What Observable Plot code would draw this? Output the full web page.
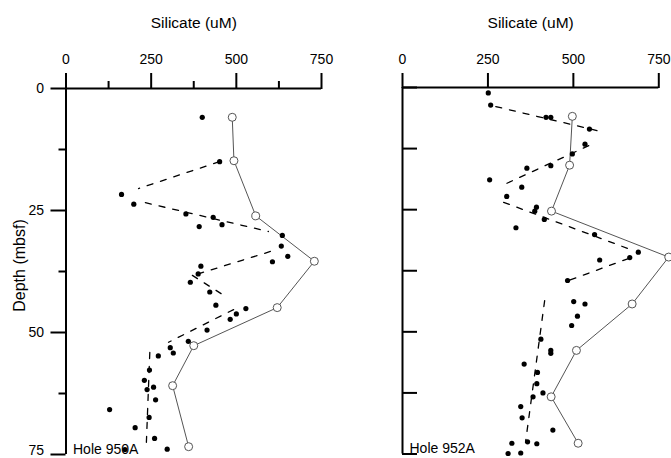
<!DOCTYPE html>
<html><head><meta charset="utf-8">
<script src="https://cdn.jsdelivr.net/npm/d3@7"></script>
<script src="https://cdn.jsdelivr.net/npm/@observablehq/plot@0.6"></script>
<style>
body{margin:0;background:#fff;}
#wrap{position:relative;width:671px;height:458px;overflow:hidden;background:#fff;}
#p1,#p2{position:absolute;top:0;}
#p1{left:0;} #p2{left:340px;}
</style></head><body><div id="wrap"><div id="p1"></div><div id="p2"></div></div>
<script>
// ---- axis ticks / labels
const xMajor = [0, 250, 500, 750];
const xMinor = [125, 375, 625];
const yMajorUpper = [0, 25, 50];
const yMajorBottom = [75];
const yMinor = [12.5, 37.5, 62.5];
const yAllTicks = [0, 12.5, 25, 37.5, 50, 62.5, 75];
const xTitle = "Silicate (uM)";
const yTitle = "Depth (mbsf)";
const holes = ["Hole 950A", "Hole 952A"];

// ---- Hole 950A pore-water samples (filled dots)
const si950 = [400, 451, 163, 199, 352, 432, 458, 391, 635, 632, 651, 606, 396, 388, 365, 422, 440, 528, 500, 482, 414, 359, 306, 315, 271, 245, 230, 257, 238, 263, 128, 244, 203, 260, 173, 297];
const depth950 = [5.9, 15.0, 21.7, 23.7, 25.7, 26.4, 27.9, 28.3, 30.1, 32.3, 34.4, 35.5, 36.4, 38.0, 39.7, 41.7, 44.4, 45.1, 46.2, 47.3, 49.5, 51.8, 53.1, 54.2, 54.8, 57.7, 59.8, 61.2, 61.7, 63.8, 65.8, 67.4, 69.5, 71.7, 74.0, 73.9];
// Hole 950A open circles (solid line)
const siCirc950 = [488, 493, 557, 729, 620, 375, 313, 360];
const depthCirc950 = [5.9, 14.8, 26.1, 35.4, 44.9, 52.7, 60.9, 73.4];
// Hole 950A dashed trend segments
const siTrend950 = [450, 213, 233, 594, 600, 383, 371, 468, 492, 301, 246, 236];
const depthTrend950 = [15.0, 20.5, 23.4, 29.3, 33.4, 38.1, 38.3, 42.6, 45.3, 52.0, 54.1, 72.5];
const segTrend950 = ["A", "A", "B", "B", "C", "C", "D", "D", "E", "E", "F", "F"];

// ---- Hole 952A pore-water samples (filled dots)
const si952 = [251, 258, 420, 434, 547, 534, 497, 434, 364, 255, 349, 305, 392, 387, 415, 332, 562, 690, 665, 577, 483, 501, 534, 512, 495, 405, 434, 434, 356, 395, 393, 411, 382, 346, 350, 440, 320, 366, 393, 309, 346];
const depth952 = [1.1, 3.6, 6.1, 6.1, 8.5, 11.6, 13.6, 16.0, 16.5, 18.9, 20.4, 22.3, 24.5, 25.3, 27.0, 28.7, 30.1, 33.7, 34.8, 35.3, 39.5, 43.8, 44.3, 46.8, 48.7, 51.5, 53.8, 54.4, 56.6, 58.3, 60.6, 62.5, 63.3, 65.3, 67.6, 70.1, 72.8, 72.5, 72.9, 74.9, 74.8];
// Hole 952A open circles (solid line)
const siCirc952 = [497, 489, 436, 779, 672, 509, 435, 514];
const depthCirc952 = [5.9, 15.9, 25.3, 34.7, 44.3, 53.8, 63.3, 72.8];
// Hole 952A dashed trend segments
const siTrend952 = [273, 580, 545, 293, 296, 673, 661, 486, 416, 360];
const depthTrend952 = [3.9, 9.0, 11.9, 20.0, 23.5, 33.3, 35.0, 39.5, 43.6, 72.6];
const segTrend952 = ["A", "A", "B", "B", "C", "C", "D", "D", "E", "E"];

const FONT = "'Liberation Sans', Arial, Helvetica, sans-serif";
const rows = (xs, ys, zs) => xs.map((x, i) => ({x, y: ys[i], z: zs ? zs[i] : 0}));

function panel(cfg) {
  const marks = [
    Plot.ruleY([0], {stroke: "#000", strokeWidth: 2}),
    Plot.ruleX([0], {stroke: "#000", strokeWidth: 2}),
    Plot.axisX({anchor: "top", ticks: xMajor, tickSize: cfg.xTick, tickPadding: 9, strokeWidth: 2, label: null, fontSize: 14, tickFormat: d => String(d)}),
    Plot.text([xTitle], {frameAnchor: "top", dy: -(cfg.marginTop - 27), lineAnchor: "bottom", fontSize: 15.5}),
    Plot.line(rows(cfg.trendX, cfg.trendY, cfg.trendZ), {x: "x", y: "y", z: "z", stroke: "#000", strokeWidth: 1.3, strokeDasharray: "6,8"}),
    Plot.line(rows(cfg.circX, cfg.circY), {x: "x", y: "y", stroke: "#555", strokeWidth: 1}),
    Plot.dot(rows(cfg.circX, cfg.circY), {x: "x", y: "y", r: 4, stroke: "#555", fill: "white", strokeWidth: 1}),
    Plot.dot(rows(cfg.dotX, cfg.dotY), {x: "x", y: "y", r: 2.6, fill: "#000", stroke: "none"}),
    Plot.text([cfg.hole], {frameAnchor: "bottom-left", dx: 7, dy: -5, textAnchor: "start", lineAnchor: "middle", fontSize: 14})
  ];
  if (cfg.left) {
    marks.push(
      Plot.axisX({anchor: "top", ticks: xMinor, tickSize: 8, strokeWidth: 2, fill: "none", label: null}),
      Plot.axisY({anchor: "left", ticks: yMajorUpper, tickSize: 15, tickPadding: 7, strokeWidth: 2, label: null, fontSize: 14, tickFormat: d => String(d)}),
      Plot.axisY({anchor: "left", ticks: yMajorBottom, tickSize: 15, strokeWidth: 2, fill: "none", label: null}),
      Plot.axisY({anchor: "left", ticks: yMajorBottom, tickSize: 0, tickPadding: 22, dy: -4, label: null, fontSize: 14, tickFormat: d => String(d)}),
      Plot.axisY({anchor: "left", ticks: yMinor, tickSize: 7, strokeWidth: 2, fill: "none", label: null}),
      Plot.text([yTitle], {frameAnchor: "left", dx: -46, dy: -6, rotate: -90, textAnchor: "middle", lineAnchor: "middle", fontSize: 16})
    );
  } else {
    marks.push(
      Plot.axisY({anchor: "left", ticks: yAllTicks, tickSize: -15, strokeWidth: 2, fill: "none", label: null})
    );
  }
  return Plot.plot({
    width: cfg.width, height: 458,
    marginLeft: cfg.marginLeft, marginRight: cfg.marginRight,
    marginTop: cfg.marginTop, marginBottom: cfg.marginBottom,
    style: {fontFamily: FONT, fontSize: "14px", background: "white", color: "#000"},
    x: {domain: [0, 750]},
    y: {domain: [0, 75], reverse: true},
    marks
  });
}

document.getElementById("p1").appendChild(panel({
  left: true, width: 340, marginLeft: 65.5, marginRight: 19, marginTop: 88, marginBottom: 4,
  dotX: si950, dotY: depth950, circX: siCirc950, circY: depthCirc950,
  trendX: siTrend950, trendY: depthTrend950, trendZ: segTrend950, hole: holes[0], xTick: 16
}));
document.getElementById("p2").appendChild(panel({
  left: false, width: 331, marginLeft: 62, marginRight: 12.7, marginTop: 87, marginBottom: 4.5,
  dotX: si952, dotY: depth952, circX: siCirc952, circY: depthCirc952,
  trendX: siTrend952, trendY: depthTrend952, trendZ: segTrend952, hole: holes[1], xTick: 15
}));
</script>
</body></html>
